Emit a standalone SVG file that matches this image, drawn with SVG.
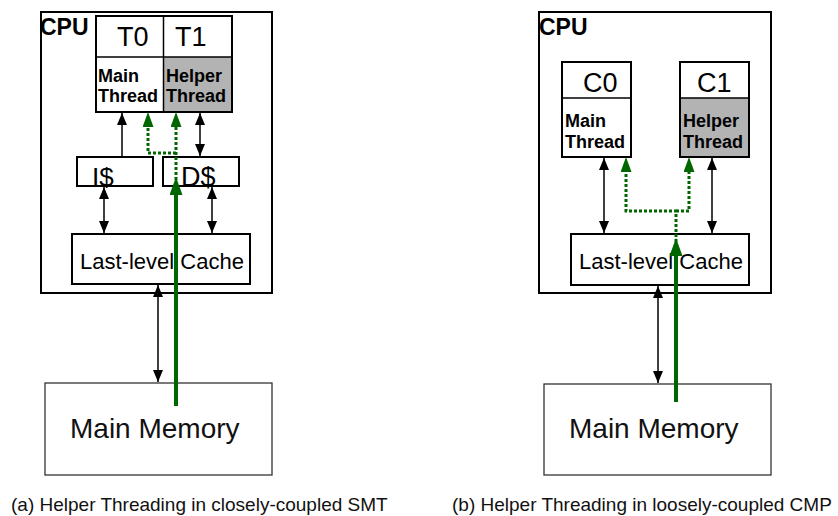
<svg xmlns="http://www.w3.org/2000/svg" width="838" height="516" viewBox="0 0 838 516">
<defs>
<style>
.box{fill:#fff;stroke:#000;stroke-width:2}
.mem{fill:#fff;stroke:#333;stroke-width:1.3}
.gray{fill:#b3b3b3;stroke:none}
.div{stroke:#000;stroke-width:1.5;fill:none}
.t{font-family:"Liberation Sans",Arial,sans-serif;fill:#000}
.cpu{font-size:23px;font-weight:bold}
.big{font-size:27px}
.lbl{font-size:18px;font-weight:bold}
.llc{font-size:22px}
.mm{font-size:28px;fill:#111}
.cap{font-size:19px;fill:#111}
.blk{stroke:#000;stroke-width:1.5;fill:none}
.gs{stroke:#006600;stroke-width:4;fill:none}
.gd{stroke:#006600;stroke-width:3;fill:none;stroke-dasharray:3,2}
</style>
<marker id="ab" markerUnits="userSpaceOnUse" markerWidth="12" markerHeight="10" refX="12" refY="5" orient="auto-start-reverse"><path d="M0,0 L12,5 L0,10 z" fill="#000"/></marker>
<marker id="ags" markerUnits="userSpaceOnUse" markerWidth="18" markerHeight="13" refX="8" refY="6.5" orient="auto"><path d="M0,0 L18,6.5 L0,13 z" fill="#006600"/></marker>
<marker id="agd" markerUnits="userSpaceOnUse" markerWidth="15" markerHeight="11" refX="7" refY="5.5" orient="auto"><path d="M0,0 L15,5.5 L0,11 z" fill="#006600"/></marker>
</defs>
<rect width="838" height="516" fill="#fff"/>

<!-- Left diagram (a) -->
<g id="cpu-a">
<rect class="box" x="41" y="12" width="231" height="281"/>
<text class="t cpu" x="40" y="35">CPU</text>
</g>
<g id="smt-core">
<rect class="box" x="96" y="16" width="136" height="96"/>
<rect class="gray" x="163.5" y="57" width="67.5" height="54"/>
<line class="div" x1="163.5" y1="16" x2="163.5" y2="112"/>
<line class="div" x1="96" y1="57" x2="232" y2="57"/>
<rect x="96" y="16" width="136" height="96" fill="none" stroke="#000" stroke-width="2"/>
<text class="t big" x="117" y="46">T0</text>
<text class="t big" x="175" y="46">T1</text>
<text class="t lbl" x="98" y="82">Main</text>
<text class="t lbl" x="98" y="102">Thread</text>
<text class="t lbl" x="166" y="82">Helper</text>
<text class="t lbl" x="166" y="102">Thread</text>
</g>
<g id="icache">
<rect class="box" x="77" y="157" width="76" height="29"/>
<text class="t big" x="92" y="186" style="font-size:26px">I$</text>
</g>
<g id="dcache">
<rect class="box" x="163" y="157" width="76" height="29"/>
<text class="t big" x="181" y="186">D$</text>
</g>
<g id="llc-a">
<rect class="box" x="72" y="234" width="178" height="50"/>
<text class="t llc" x="80" y="269">Last-level Cache</text>
</g>
<g id="mem-a">
<rect class="mem" x="45" y="383" width="227" height="92"/>
<text class="t mm" x="70" y="438">Main Memory</text>
</g>

<!-- Right diagram (b) -->
<g id="cpu-b">
<rect class="box" x="539" y="12" width="232" height="281"/>
<text class="t cpu" x="539" y="35">CPU</text>
</g>
<g id="core0">
<rect class="box" x="562" y="62" width="69" height="95"/>
<line class="div" x1="562" y1="98" x2="631" y2="98"/>
<text class="t big" x="583" y="92">C0</text>
<text class="t lbl" x="565" y="127">Main</text>
<text class="t lbl" x="565" y="148">Thread</text>
</g>
<g id="core1">
<rect class="box" x="680" y="62" width="69" height="95"/>
<rect class="gray" x="681" y="98" width="67" height="58"/>
<line class="div" x1="680" y1="98" x2="749" y2="98"/>
<text class="t big" x="697" y="92">C1</text>
<text class="t lbl" x="683" y="127">Helper</text>
<text class="t lbl" x="683" y="148">Thread</text>
</g>
<g id="llc-b">
<rect class="box" x="571" y="234" width="178" height="51"/>
<text class="t llc" x="579" y="269">Last-level Cache</text>
</g>
<g id="mem-b">
<rect class="mem" x="544" y="384" width="227" height="91"/>
<text class="t mm" x="569" y="438">Main Memory</text>
</g>

<g id="captions">
<text class="t cap" x="11" y="511">(a) Helper Threading in closely-coupled SMT</text>
<text class="t cap" x="452" y="511">(b) Helper Threading in loosely-coupled CMP</text>
</g>

<g id="connectors">
<!-- left black -->
<line class="blk" x1="122" y1="157" x2="122" y2="113" marker-end="url(#ab)"/>
<line class="blk" x1="200" y1="113" x2="200" y2="156" marker-start="url(#ab)" marker-end="url(#ab)"/>
<line class="blk" x1="104" y1="187" x2="104" y2="233" marker-start="url(#ab)" marker-end="url(#ab)"/>
<line class="blk" x1="212" y1="187" x2="212" y2="233" marker-start="url(#ab)" marker-end="url(#ab)"/>
<line class="blk" x1="158" y1="285" x2="158" y2="382" marker-start="url(#ab)" marker-end="url(#ab)"/>
<!-- left green -->
<path class="gd" d="M176,180 V120" marker-end="url(#agd)"/>
<path class="gd" d="M176,153 H148 V120" marker-end="url(#agd)"/>
<line class="gs" x1="176" y1="406" x2="176" y2="187" marker-end="url(#ags)"/>
<!-- right black -->
<line class="blk" x1="604" y1="158" x2="604" y2="233" marker-start="url(#ab)" marker-end="url(#ab)"/>
<line class="blk" x1="712" y1="158" x2="712" y2="233" marker-start="url(#ab)" marker-end="url(#ab)"/>
<line class="blk" x1="658" y1="286" x2="658" y2="383" marker-start="url(#ab)" marker-end="url(#ab)"/>
<!-- right green -->
<path class="gd" d="M676,242 V211 H626 V165" marker-end="url(#agd)"/>
<path class="gd" d="M676,211 H689 V165" marker-end="url(#agd)"/>
<line class="gs" x1="676" y1="402" x2="676" y2="248" marker-end="url(#ags)"/>
</g>
</svg>
